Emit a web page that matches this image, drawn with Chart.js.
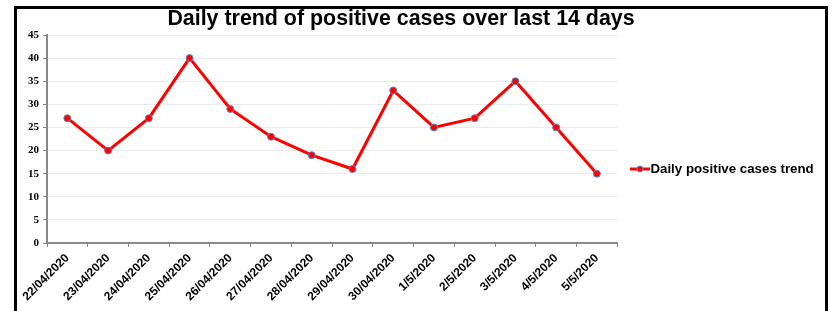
<!DOCTYPE html>
<html>
<head>
<meta charset="utf-8">
<script src="https://cdn.jsdelivr.net/npm/chart.js@4"></script>
<style>
  body { margin: 0; background: #fff; }
  #wrap { position: relative; width: 834px; height: 311px; overflow: hidden; }
  #frame { position: absolute; left: 14px; top: 6px; width: 808px; height: 320px; border: 3px solid #000; }
  canvas { position: absolute; left: 0; top: 0; }
</style>
</head>
<body>
<div id="wrap">
  <div id="frame"></div>
  <canvas id="trendChart" width="834" height="311"></canvas>
</div>
<script>
const dates = ['22/04/2020', '23/04/2020', '24/04/2020', '25/04/2020', '26/04/2020', '27/04/2020', '28/04/2020',
               '29/04/2020', '30/04/2020', '1/5/2020', '2/5/2020', '3/5/2020', '4/5/2020', '5/5/2020'];
const positiveCases = [27, 20, 27, 40, 29, 23, 19, 16, 33, 25, 27, 35, 25, 15];
const yTicks = [0, 5, 10, 15, 20, 25, 30, 35, 40, 45];
const titleText = 'Daily trend of positive cases over last 14 days';

// legend marker: red line with a dot
const marker = document.createElement('canvas');
marker.width = 20; marker.height = 10;
const m = marker.getContext('2d');
m.strokeStyle = '#ff0000'; m.lineWidth = 3;
m.beginPath(); m.moveTo(0, 5); m.lineTo(20, 5); m.stroke();
m.fillStyle = '#ff0000'; m.strokeStyle = '#5b84c9'; m.lineWidth = 1;
m.beginPath(); m.arc(10, 5, 3, 0, Math.PI * 2); m.fill(); m.stroke();

// title is not centred on the canvas in the original, so draw it here
const titlePlugin = {
    id: 'offsetTitle',
    afterDraw(chart) {
        const c = chart.ctx;
        c.save();
        c.font = 'bold 21.4px "Liberation Sans", Arial';
        c.fillStyle = '#000';
        c.textAlign = 'center';
        c.textBaseline = 'middle';
        c.fillText(titleText, 401, 19);
        c.restore();
    }
};

const ctx = document.getElementById('trendChart').getContext('2d');
new Chart(ctx, {
    type: 'line',
    data: {
        labels: dates,
        datasets: [{
            label: 'Daily positive cases trend',
            data: positiveCases,
            borderColor: '#ff0000',
            borderWidth: 3,
            pointBackgroundColor: '#ff0000',
            pointBorderColor: '#5b84c9',
            pointBorderWidth: 1,
            pointRadius: 3.5,
            tension: 0,
            fill: false
        }]
    },
    options: {
        responsive: false,
        animation: false,
        layout: { padding: { left: 24, right: 19, top: 35, bottom: 8 } },
        plugins: {
            legend: {
                position: 'right',
                labels: {
                    usePointStyle: true,
                    pointStyle: marker,
                    pointStyleWidth: 7.5,
                    color: '#000',
                    font: { family: 'Liberation Sans, Arial', size: 13.3, weight: 'bold' },
                    padding: 19
                }
            },
            tooltip: { enabled: false }
        },
        scales: {
            x: {
                offset: true,
                afterFit: function(scale) { scale.height = 60; },
                grid: { display: true, drawOnChartArea: false, offset: true, tickLength: 4, color: '#888' },
                border: { color: '#888', width: 2 },
                ticks: {
                    color: '#000',
                    maxRotation: 45,
                    minRotation: 45,
                    autoSkip: false,
                    padding: 4,
                    font: { family: 'Liberation Sans, Arial', size: 12, weight: 'bold' }
                }
            },
            y: {
                min: 0,
                max: 45,
                afterBuildTicks: function(axis) { axis.ticks = yTicks.map(v => ({ value: v })); },
                grid: { color: '#ebebeb', tickColor: '#888', tickLength: 4 },
                border: { color: '#888', width: 2 },
                ticks: {
                    color: '#000',
                    padding: 4,
                    font: { family: 'Liberation Serif, Times New Roman', size: 11, weight: 'bold' }
                }
            }
        }
    },
    plugins: [titlePlugin]
});
</script>
</body>
</html>
